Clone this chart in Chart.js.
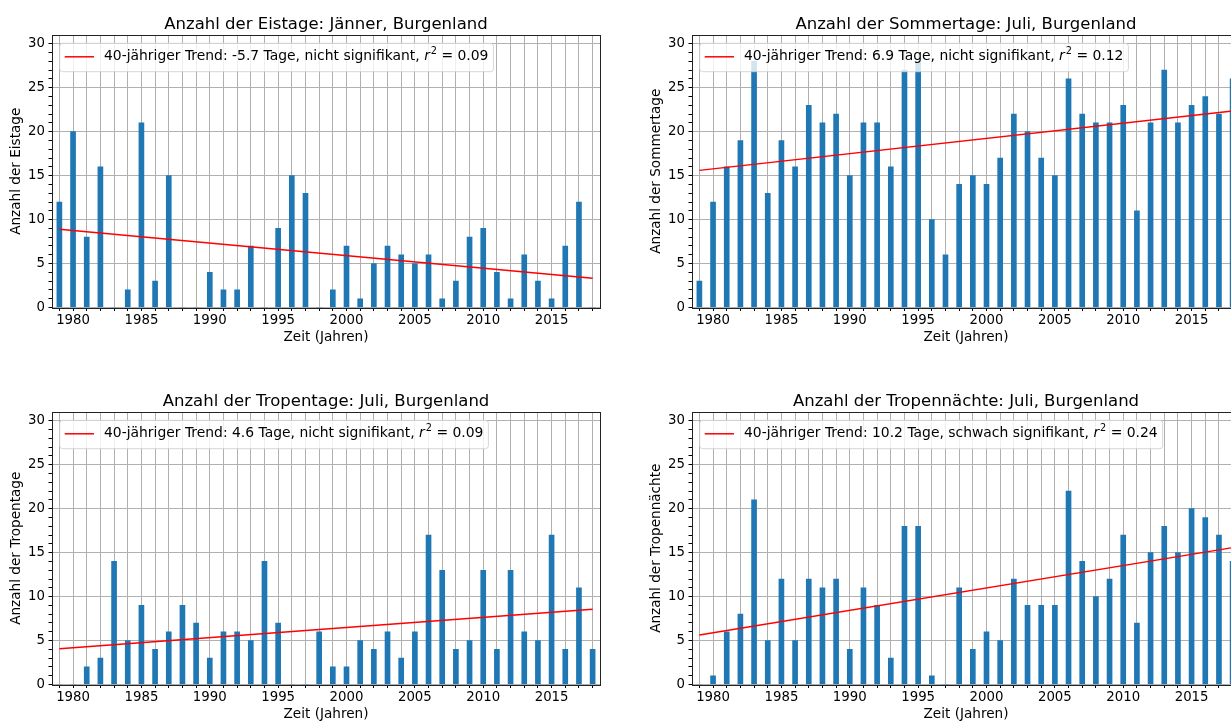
<!DOCTYPE html>
<html>
<head>
<meta charset="utf-8">
<script src="https://cdn.jsdelivr.net/npm/chart.js@4.4.0/dist/chart.umd.min.js"></script>
<style>
  html, body { margin: 0; padding: 0; background: #fff; overflow: hidden; }
  canvas { position: absolute; }
</style>
</head>
<body>
<canvas id="c1" width="615" height="345" style="left:0px;top:0px"></canvas>
<canvas id="c2" width="640" height="345" style="left:615px;top:0px"></canvas>
<canvas id="c3" width="615" height="345" style="left:0px;top:377px"></canvas>
<canvas id="c4" width="640" height="345" style="left:615px;top:377px"></canvas>
<script>
var years = [1979, 1980, 1981, 1982, 1983, 1984, 1985, 1986, 1987, 1988,
             1989, 1990, 1991, 1992, 1993, 1994, 1995, 1996, 1997, 1998,
             1999, 2000, 2001, 2002, 2003, 2004, 2005, 2006, 2007, 2008,
             2009, 2010, 2011, 2012, 2013, 2014, 2015, 2016, 2017, 2018];

var eistage       = [12, 20, 8, 16, 0, 2, 21, 3, 15, 0, 0, 4, 2, 2, 7, 0, 9, 15, 13, 0,
                     2, 7, 1, 5, 7, 6, 5, 6, 1, 3, 8, 9, 4, 1, 6, 3, 1, 7, 12, 0];
var sommertage    = [3, 12, 16, 19, 28, 13, 19, 16, 23, 21, 22, 15, 21, 21, 16, 27, 28, 10, 6, 14,
                     15, 14, 17, 22, 20, 17, 15, 26, 22, 21, 21, 23, 11, 21, 27, 21, 23, 24, 22, 26];
var tropentage    = [0, 0, 2, 3, 14, 5, 9, 4, 6, 9, 7, 3, 6, 6, 5, 14, 7, 0, 0, 6,
                     2, 2, 5, 4, 6, 3, 6, 17, 13, 4, 5, 13, 4, 13, 6, 5, 17, 4, 11, 4];
var tropennaechte = [0, 1, 6, 8, 21, 5, 12, 5, 12, 11, 12, 4, 11, 9, 3, 18, 18, 1, 0, 11,
                     4, 6, 5, 12, 9, 9, 9, 22, 14, 10, 12, 17, 7, 15, 18, 15, 20, 19, 17, 14];

// Trendlinie: Werte am Anfang und Ende des Zeitraums
var trendYears = [1979, 2018];
var eistageTrend       = [8.9, 3.34];
var sommertageTrend    = [15.6, 22.35];
var tropentageTrend    = [4.07, 8.56];
var tropennaechteTrend = [5.62, 15.57];

var xTickLabels = [1980, 1985, 1990, 1995, 2000, 2005, 2010, 2015];
var yTickLabels = [0, 5, 10, 15, 20, 25, 30];

var FONT = '"DejaVu Sans"';
Chart.defaults.font.family = FONT;
Chart.defaults.color = '#000';

var frameAndLegend = {
  id: 'frameAndLegend',
  afterDraw: function(chart, args, opts) {
    var ctx = chart.ctx, a = chart.chartArea;
    ctx.save();
    // Rahmen
    ctx.strokeStyle = '#222';
    ctx.lineWidth = 1;
    ctx.strokeRect(Math.round(a.left) + 0.5, Math.round(a.top) + 0.5,
                   Math.round(a.right - a.left), Math.round(a.bottom - a.top));

    // Legende
    var fs = 13.9;
    var font = fs + 'px ' + FONT;
    var x0 = a.left + 7.7, y0 = a.top + 8.3, h = 28.4;
    var cy = a.top + 21.8;
    var tx = a.left + 52;
    ctx.font = font;
    var w1 = ctx.measureText(opts.text).width;
    ctx.font = 'italic ' + font;
    var wr = ctx.measureText('r').width;
    ctx.font = (fs * 0.7) + 'px ' + FONT;
    var w2 = ctx.measureText('2').width;
    ctx.font = font;
    var w3 = ctx.measureText(opts.tail).width;
    var boxW = (tx - x0) + w1 + wr + w2 + 1 + w3 + 5;

    ctx.beginPath();
    ctx.roundRect(x0, y0, boxW, h, 3);
    ctx.fillStyle = 'rgba(255,255,255,0.8)';
    ctx.fill();
    ctx.strokeStyle = 'rgba(204,204,204,0.8)';
    ctx.lineWidth = 1;
    ctx.stroke();

    ctx.beginPath();
    ctx.moveTo(a.left + 12.7, cy);
    ctx.lineTo(a.left + 42, cy);
    ctx.strokeStyle = '#ff0000';
    ctx.lineWidth = 1.5;
    ctx.stroke();

    ctx.fillStyle = '#000';
    ctx.textBaseline = 'middle';
    ctx.textAlign = 'left';
    var x = tx;
    ctx.font = font;
    ctx.fillText(opts.text, x, cy);
    x += w1;
    ctx.font = 'italic ' + font;
    ctx.fillText('r', x, cy);
    x += wr + 1;
    ctx.font = (fs * 0.7) + 'px ' + FONT;
    ctx.fillText('2', x, cy - 5);
    x += w2;
    ctx.font = font;
    ctx.fillText(opts.tail, x, cy);
    ctx.restore();
  }
};

function drawPanel(elementID, values, trend, title, yLabel, legendText, legendTail, axisWidth) {
  var barData = years.map(function(yr, i) { return {x: yr, y: values[i]}; });
  var lineData = trendYears.map(function(yr, i) { return {x: yr, y: trend[i]}; });

  var ctx = document.getElementById(elementID).getContext('2d');
  new Chart(ctx, {
    type: 'bar',
    data: {
      datasets: [
        {
          type: 'line',
          data: lineData,
          borderColor: '#ff0000',
          borderWidth: 1.5,
          pointRadius: 0,
          order: 0
        }, {
          type: 'bar',
          data: barData,
          backgroundColor: '#1f77b4',
          barThickness: 5,
          order: 1
        }
      ]
    },
    options: {
      responsive: false,
      animation: false,
      layout: { padding: { left: 0, right: 15, top: 0, bottom: 0 } },
      plugins: {
        legend: { display: false },
        tooltip: { enabled: false },
        title: {
          display: true,
          fullSize: false,
          text: title,
          color: '#000',
          font: { size: 16.5, weight: 'normal', family: FONT },
          padding: { top: 14.6, bottom: 0.6 }
        },
        frameAndLegend: { text: legendText, tail: legendTail }
      },
      scales: {
        x: {
          type: 'linear',
          min: 1978.46,
          max: 2018.54,
          offset: false,
          afterFit: function(scale) { scale.height = 37.5; },
          grid: { offset: false, color: '#b0b0b0', lineWidth: 1, tickColor: '#000', tickLength: 3.5 },
          border: { display: false },
          ticks: {
            stepSize: 1,
            includeBounds: false,
            autoSkip: false,
            maxRotation: 0,
            padding: 1.5,
            color: '#000',
            font: { size: 13.3 },
            callback: function(v) { return xTickLabels.indexOf(v) >= 0 ? String(v) : ''; }
          },
          title: {
            display: true,
            text: 'Zeit (Jahren)',
            color: '#000',
            font: { size: 13.6 },
            padding: { top: 0, bottom: -1 }
          }
        },
        y: {
          min: 0,
          max: 31,
          afterFit: function(scale) { scale.width = axisWidth; },
          grid: {
            color: function(c) { return (c.tick && c.tick.value % 5 === 0 && c.tick.value <= 30) ? '#b0b0b0' : 'rgba(0,0,0,0)'; },
            tickColor: function(c) { return (c.tick && c.tick.value > 30) ? 'rgba(0,0,0,0)' : '#000'; },
            lineWidth: 1,
            tickLength: 3.5
          },
          border: { display: false },
          ticks: {
            stepSize: 1,
            maxTicksLimit: 1000,
            autoSkip: false,
            padding: 3.5,
            color: '#000',
            font: { size: 13.3 },
            callback: function(v) { return yTickLabels.indexOf(v) >= 0 ? String(v) : ''; }
          },
          title: {
            display: true,
            text: yLabel,
            color: '#000',
            font: { size: 13.6 },
            padding: { top: axisWidth - 43.3, bottom: 0 }
          }
        }
      }
    },
    plugins: [frameAndLegend]
  });
}

drawPanel('c1', eistage, eistageTrend, 'Anzahl der Eistage: Jänner, Burgenland', 'Anzahl der Eistage',
  '40-jähriger Trend: -5.7 Tage, nicht signifikant, ', ' = 0.09', 52);
drawPanel('c2', sommertage, sommertageTrend, 'Anzahl der Sommertage: Juli, Burgenland', 'Anzahl der Sommertage',
  '40-jähriger Trend: 6.9 Tage, nicht signifikant, ', ' = 0.12', 77);
drawPanel('c3', tropentage, tropentageTrend, 'Anzahl der Tropentage: Juli, Burgenland', 'Anzahl der Tropentage',
  '40-jähriger Trend: 4.6 Tage, nicht signifikant, ', ' = 0.09', 52);
drawPanel('c4', tropennaechte, tropennaechteTrend, 'Anzahl der Tropennächte: Juli, Burgenland', 'Anzahl der Tropennächte',
  '40-jähriger Trend: 10.2 Tage, schwach signifikant, ', ' = 0.24', 77);
</script>
</body>
</html>
